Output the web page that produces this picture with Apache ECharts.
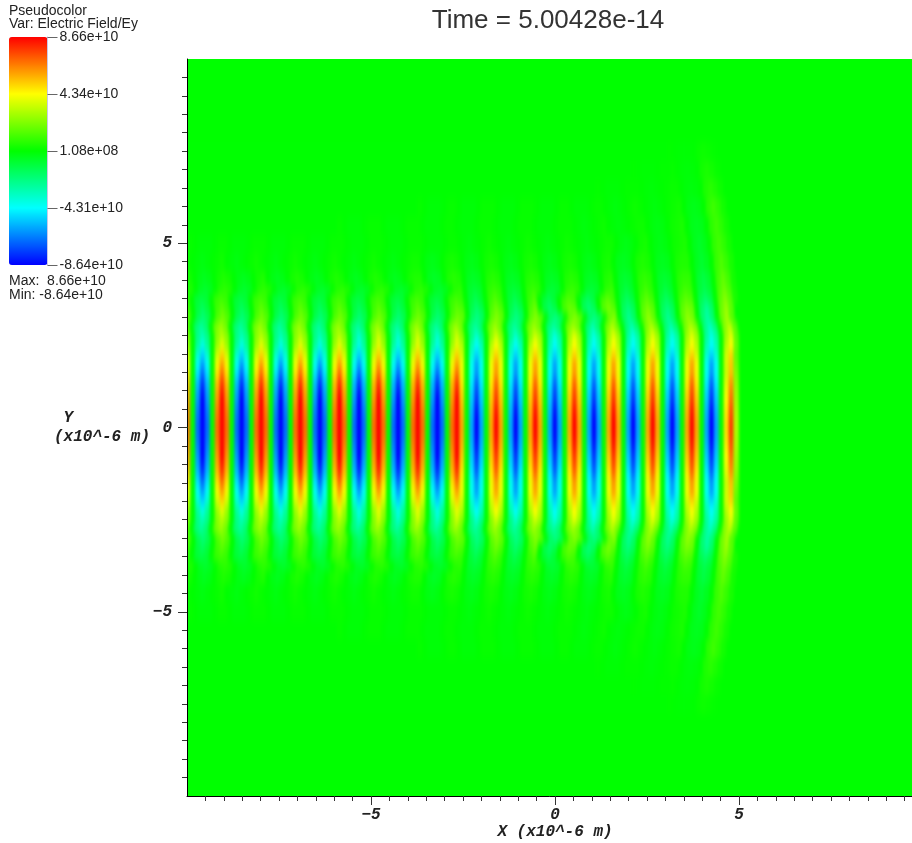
<!DOCTYPE html>
<html>
<head>
<meta charset="utf-8">
<title>Pseudocolor Electric Field/Ey</title>
<script src="https://cdn.jsdelivr.net/npm/echarts@6/dist/echarts.min.js"></script>
<style>
html,body{margin:0;padding:0;background:#fff;overflow:hidden}
#chart{width:912px;height:843px}
/* The field layer (zlevel 1) is smoothed like the pseudocolor plot and kept inside the plot frame */
#chart canvas[data-zr-dom-id="zr_1"]{filter:url(#soft);clip-path:inset(59px 0 47px 188px)}
</style>
</head>
<body>
<svg width="0" height="0" style="position:absolute">
  <filter id="soft" color-interpolation-filters="sRGB"><feGaussianBlur stdDeviation="1.8 4.5"/></filter>
</svg>
<div id="chart"></div>
<script>
// Legend scale
const fieldMin = -8.64e10;
const fieldMax = 8.66e10;
const barTickValues = [8.66e10, 4.34e10, 1.08e8, -4.31e10, -8.64e10];
const barTickLabels = ['8.66e+10', '4.34e+10', '1.08e+08', '-4.31e+10', '-8.64e+10'];
const barColors = ['#0000ff', '#00ffff', '#00ff00', '#ffff00', '#ff0000'];

// Axis ticks
const tickValues = [-5, 0, 5];

// Field samples along X (microns): first sample and step
const xStart = -9.98;
const xStep = 0.133;
// Level letters: A..J = +0.1..+1.0, a..j = -0.1..-1.0, dot = 0
const coreLevels = 'G.gjg.GJ G.gjg.GJ G.gjg.GJ G.gjg.GJ G.gjg.GJ G.gjg.GJ G.gjg.GJ F.fif.FI F.fif.FI F.fif.FI F.fif.FI F.fif.FI F.fif.FI F.fif.EH C';

// Upper half rows (the picture is mirror symmetric about Y = 0)
const rowY = [0, 0.25, 0.5, 0.75, 1, 1.25, 1.5, 1.75, 2, 2.25, 2.5, 2.75, 3, 3.25, 3.5, 3.75, 4, 4.5, 5, 5.5, 6, 6.5, 7, 7.5];
const rowPeak = [1.12, 1.1, 1.06, 1.0, 0.95, 0.88, 0.78, 0.68, 0.58, 0.5, 0.44, 0.38, 0.32, 0.3, 0.26, 0.22, 0.19, 0.15, 0.13, 0.12, 0.12, 0.08, 0.05, 0.025];
// Sub-sample position of each row's wavefronts, microns
const rowOffset = [0, 0, 0, 0, 0, 0, 0, 0, 0, 0, 0, -0.04, 0.02, 0, -0.03, 0.08, 0.05, 0, 0.07, 0, 0.05, -0.03, 0.01, 0.06];
const rowLevels = [
  coreLevels, coreLevels, coreLevels, coreLevels, coreLevels, coreLevels, coreLevels,
  'G.gjg.GJ G.gjg.GJ G.gjg.GJ G.gjg.GJ G.gjg.GJ G.gjg.GJ G.gjg.GJ G.gjg.GJ G.gjg.GJ G.gjg.GJ G.gjg.GJ G.gjg.GJ G.gjg.GJ G.gjg.FI C',
  'G.gjg.GJ G.gjg.GJ G.gjg.GJ G.gjg.GJ G.gjg.GJ G.gjg.GJ G.gjg.GJ G.gjg.GJ G.gjg.GJ G.gjg.GJ G.gjg.GJ G.gjg.GJ G.gjg.GJ G.gjg.GJ C',
  'F.fif.FI F.fif.FI F.fif.FI F.fif.FI F.fif.FI F.fif.FI F.fif.FI G.gjg.GJ G.gjg.GJ G.gjg.GJ G.gjg.GJ G.gjg.GJ G.gjg.GJ G.gjg.GJ D',
  'F.fhf.FH F.fhf.FH F.fhf.FH F.fhf.FH F.fif.FI F.fif.FI F.fif.FI F.fif.FI F.fif.FI G.gjg.GJ G.gjg.GJ G.gjg.GJ G.gjg.GJ G.gjg.GJ D',
  'F.fhf.FH F.fhf.FH F.fhf.FH F.fhf.FH F.fhf.FH F.fhf.FH F.fhf.FH F.fhf.FH F.fhf.FH F.fhf.FH F.fif.FI F.fif.FI F.fif.FI G.gjg.GJ E',
  'E.ege.EG E.ege.EG E.ege.EG E.ege.EG E.ege.EG E.ege.EG E.ege.EG F.fhf.FH F.fhf.FH F.fhf.FH F.fhf.FH .fif.FI F.fif.FI G.gjg.GJ E',
  'D.dfd.DF D.dfd.DF D.dfd.DF D.dfd.DF D.dfd.DF D.dfd.DF D.dfd.DF E.ege.EG E.ege.EG .ege.EG F.fhf.FH F.fhf.FH F.fhf.FH G.gjg.GJ F',
  'D.ded.DE D.ded.DE D.ded.DE D.ded.DE D.ded.DE D.ded.DE D.ded.DE D.dfd.DF D.dfd.DF .dfd.DF E.ege.EG E.ege.EG E.ege.EG F.fhf.GJ GB',
  'C.cdc.CD C.cdc.CD C.cdc.CD C.cdc.CD C.cdc.CD C.cdc.CD C.cdc.CD .ded.DE D.ded.DE D.ded.DE D.ded.DE .dfd.DF D.dfd.DF E.ege.GJ GB',
  'B.bcb.BC B.bcb.BC .bcb.BC B.bcb.BC B.bcb.BC B.bcb.BC C.cdc.CD C.cdc.CD C.cdc.CD C.cdc.CD C.cdc.CD .ded.DE D.ded.DE E.ege.GJ GB',
  'A.aba.AB .aba.AB A.aba.AB A.aba.AB A.aba.AB A.aba.AB B.bcb.BC B.bcb.BC B.bcb.BC B.bcb.BC B.bcb.BC .cdc.CD C.cdc.CD D.dfd.GJ GC',
  'A.aaa.AA .aaa.AA A.aaa.AA A.aaa.AA A.aaa.AA A.aaa.AA A.aaa.AA .aba.AB A.aba.AB A.aba.AB A.aba.AB B.bcb.BC .bcb.BC D.dfd.GJ GC',
  '........ ........ ....... ........ A.aaa.AA A.aaa.AA A.aaa.AA .aaa.AA A.aaa.AA A.aaa.AA A.aba.AB .aba.AB B.bcb.BC D.ded.GJ GC',
  '........ ........ ........ ........ ........ ....... A.aaa.AA .aaa.AA A.aaa.AA A.aaa.AA .aaa.AA .aba.AB A.aba.AB C.cdc.GJ GC',
  '........ ........ ........ ........ ........ ........ ........ ........ ........ ........ .... A.aaa.AA A.aba.AB B.bcb.GJ GC',
  '........ ........ ........ ........ ........ ........ ........ ........ ........ ........ ........ ... A.aaa.AA B.bcb.GJ GC',
  '........ ........ ........ ........ ........ ........ ........ ........ ........ ........ ........ ........ .. B.bcb.GJ GC'
];

function levelOf(ch) {
  if (ch === '.') return 0;
  const code = ch.charCodeAt(0);
  return code >= 97 ? -(code - 96) / 10 : (code - 64) / 10;
}

const cells = [];
rowY.forEach((y, r) => {
  const below = r === 0 ? 0 : (y + rowY[r - 1]) / 2;
  const above = r === rowY.length - 1 ? y + 0.25 : (y + rowY[r + 1]) / 2;
  const chars = rowLevels[r].replace(/ /g, '');
  for (let i = 0; i < chars.length; i++) {
    const value = levelOf(chars[i]) * rowPeak[r] * fieldMax;
    const x = xStart + i * xStep + rowOffset[r];
    cells.push([x, below, above, value]);
    cells.push([x, -above, -below, value]);
  }
});

const monoFont = {
  fontFamily: '"Liberation Mono", monospace',
  fontWeight: 'bold',
  fontStyle: 'italic',
  fontSize: 16,
  color: '#222'
};
const sans = { fontFamily: '"Liberation Sans", Arial, sans-serif', fontWeight: 'normal', color: '#222' };

function plainTick(v) {
  return String(v).replace('-', '\u2212');
}

function axisCommon(labelMargin, namePadTop) {
  return {
    type: 'value', min: -10, max: 10, interval: 5,
    splitLine: { show: false },
    axisLine: { show: true, onZero: false, lineStyle: { color: '#000', width: 1 } },
    axisTick: { show: true, length: 9, customValues: tickValues, lineStyle: { color: '#333' } },
    minorTick: { show: true, splitNumber: 10, length: 5, lineStyle: { color: '#333' } },
    axisLabel: { customValues: tickValues, formatter: plainTick, margin: labelMargin, ...monoFont },
    nameLocation: 'middle', nameRotate: 0, nameMoveOverlap: false,
    nameTextStyle: { ...monoFont, lineHeight: 19, padding: [namePadTop, 0, 0, 0] }
  };
}

const chart = echarts.init(document.getElementById('chart'), null, { renderer: 'canvas' });
chart.setOption({
  animation: false,
  backgroundColor: '#fff',
  title: [
    { text: 'Time = 5.00428e-14', left: 548, top: 8, textAlign: 'center', padding: 0,
      textStyle: { ...sans, fontSize: 26, color: '#333' } },
    { text: 'Pseudocolor', left: 9, top: 4, padding: 0, textStyle: { ...sans, fontSize: 14 } },
    { text: 'Var: Electric Field/Ey', left: 9, top: 17, padding: 0, textStyle: { ...sans, fontSize: 14 } },
    { text: 'Max:  8.66e+10', left: 9, top: 274, padding: 0, textStyle: { ...sans, fontSize: 14 } },
    { text: 'Min: -8.64e+10', left: 9, top: 288, padding: 0, textStyle: { ...sans, fontSize: 14 } }
  ],
  grid: [
    { left: 187, top: 59, width: 736, height: 737, show: true, backgroundColor: '#00ff00', borderWidth: 0, outerBoundsMode: 'none' },
    { left: 9, top: 37, width: 38.5, height: 228, show: false, outerBoundsMode: 'none' }
  ],
  xAxis: [
    { ...axisCommon(11, 0), gridIndex: 0, position: 'bottom', name: 'X (x10^-6 m)', nameGap: 26 },
    { type: 'value', gridIndex: 1, show: false, min: 0, max: 1 }
  ],
  yAxis: [
    { ...axisCommon(15, 24), gridIndex: 0, position: 'left', name: ' Y        \n(x10^-6 m)', nameGap: 37 },
    { type: 'value', gridIndex: 1, position: 'right', min: fieldMin, max: fieldMax, z: 20,
      splitLine: { show: false }, axisLine: { show: true, onZero: false, lineStyle: { color: '#c8c8e8' } },
      axisTick: { show: true, inside: false, length: 10, customValues: barTickValues, lineStyle: { color: '#666' } },
      axisLabel: { customValues: barTickValues, margin: 12, ...sans, fontSize: 14,
        formatter: v => barTickLabels[barTickValues.indexOf(v)] } }
  ],
  visualMap: {
    type: 'continuous', seriesIndex: 0, dimension: 3,
    min: fieldMin, max: fieldMax,
    left: 9, top: 37, itemWidth: 38.5, itemHeight: 228, padding: 0,
    calculable: false, hoverLink: false, showLabel: false,
    inRange: { color: barColors }
  },
  series: [{
    type: 'custom',
    zlevel: 1,
    silent: true,
    coordinateSystem: 'cartesian2d',
    xAxisIndex: 0, yAxisIndex: 0,
    progressive: 0,
    encode: { x: 0, y: [1, 2] },
    data: cells,
    renderItem: function (params, api) {
      const x = api.value(0);
      const a = api.coord([x - xStep / 2, api.value(2)]);
      const b = api.coord([x + xStep / 2, api.value(1)]);
      return {
        type: 'rect',
        shape: { x: a[0], y: a[1], width: b[0] - a[0] + 0.5, height: b[1] - a[1] + 0.5 },
        style: { fill: api.visual('color') }
      };
    }
  }]
});
</script>
</body>
</html>
